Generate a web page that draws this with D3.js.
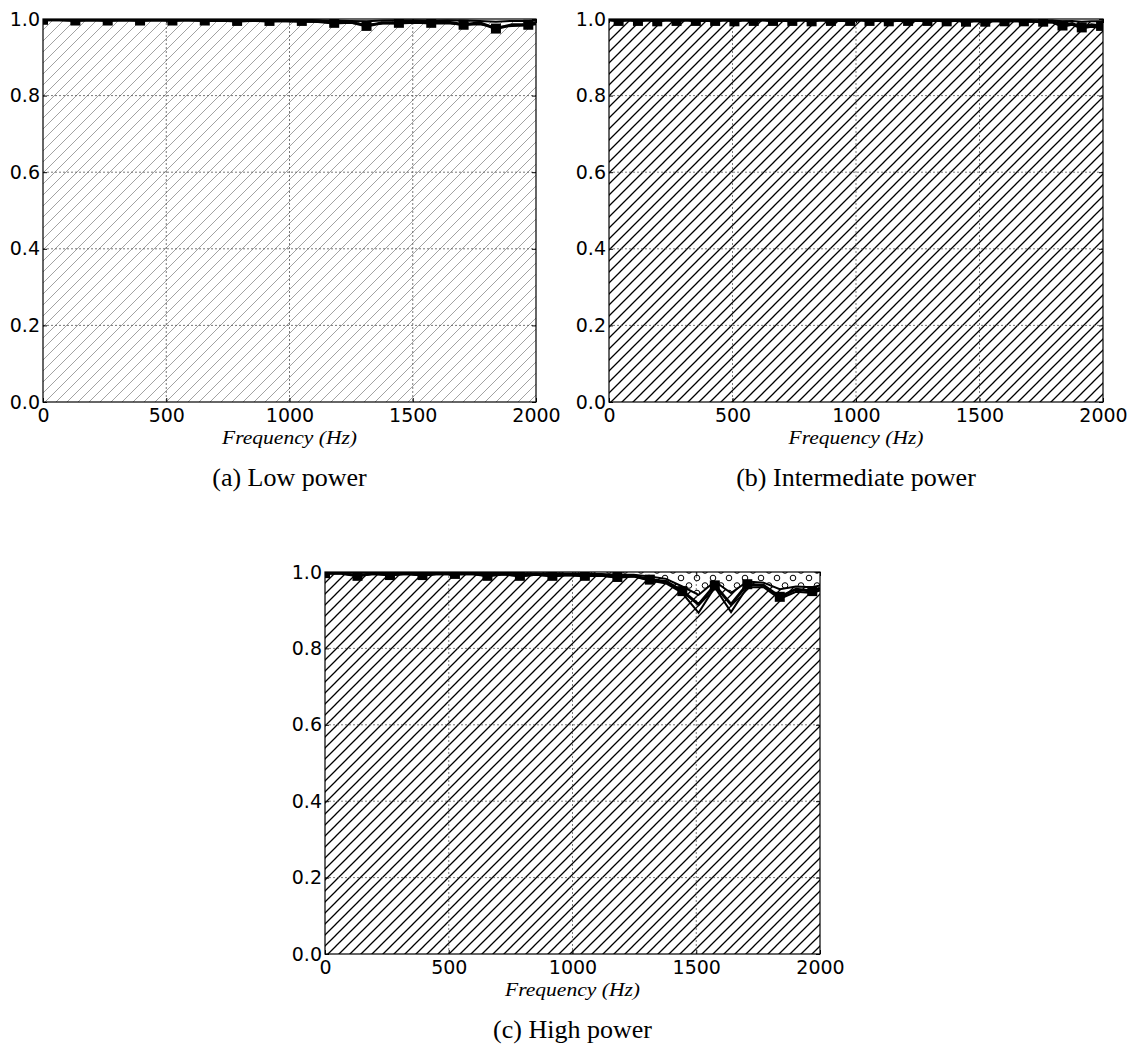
<!DOCTYPE html>
<html>
<head>
<meta charset="utf-8">
<script src="https://cdn.jsdelivr.net/npm/d3@7"></script>
<style>
  html, body { margin: 0; padding: 0; background: #fff; }
  svg { display: block; }
</style>
</head>
<body>
<script>
// ---------- DATA ----------
const freqAC = [0, 65.6, 131.3, 196.9, 262.5, 328.1, 393.8, 459.4, 525, 590.6,
  656.3, 721.9, 787.5, 853.1, 918.8, 984.4, 1050, 1115.6, 1181.3, 1246.9,
  1312.5, 1378.1, 1443.8, 1509.4, 1575, 1640.6, 1706.3, 1771.9, 1837.5, 1903.1,
  1968.8, 2000];

const freqB = [0, 39.1, 78.1, 117.2, 156.3, 195.3, 234.4, 273.4, 312.5, 351.6,
  390.6, 429.7, 468.8, 507.8, 546.9, 585.9, 625, 664.1, 703.1, 742.2,
  781.3, 820.3, 859.4, 898.4, 937.5, 976.6, 1015.6, 1054.7, 1093.8, 1132.8,
  1171.9, 1210.9, 1250, 1289.1, 1328.1, 1367.2, 1406.3, 1445.3, 1484.4, 1523.4,
  1562.5, 1601.6, 1640.6, 1679.7, 1718.8, 1757.8, 1796.9, 1835.9, 1875, 1914.1,
  1953.1, 1992.2, 2000];

// Panel (a) Low power
const lowMain = [0.998,0.998,0.996,0.998,0.996,0.998,0.996,0.998,0.996,0.998,
  0.996,0.997,0.995,0.997,0.995,0.996,0.995,0.995,0.990,0.992,
  0.982,0.990,0.990,0.993,0.990,0.992,0.985,0.990,0.975,0.985,
  0.985,0.990];
const lowUpper = [0.999,0.999,0.999,0.999,0.999,0.999,0.999,0.999,0.999,0.999,
  0.999,0.999,0.999,0.999,0.998,0.998,0.998,0.997,0.996,0.995,
  0.994,0.996,0.997,0.997,0.996,0.997,0.996,0.995,0.993,0.995,
  0.995,0.996];
const lowLower = [0.997,0.997,0.996,0.997,0.996,0.997,0.996,0.997,0.996,0.996,
  0.995,0.996,0.994,0.995,0.994,0.994,0.993,0.992,0.988,0.990,
  0.985,0.988,0.988,0.990,0.988,0.989,0.985,0.986,0.978,0.982,
  0.984,0.986];

// Panel (b) Intermediate power
const midMain = [0.998,0.995,0.998,0.995,0.998,0.994,0.998,0.995,0.998,0.995,
  0.997,0.995,0.998,0.994,0.998,0.995,0.998,0.995,0.997,0.995,
  0.998,0.994,0.998,0.995,0.997,0.995,0.998,0.995,0.997,0.994,
  0.997,0.995,0.997,0.995,0.997,0.994,0.997,0.993,0.996,0.993,
  0.996,0.994,0.996,0.994,0.995,0.993,0.994,0.983,0.988,0.978,
  0.985,0.982,0.985];
const midUpper = [0.999,0.999,0.999,0.999,0.999,0.999,0.999,0.999,0.999,0.999,
  0.999,0.999,0.999,0.999,0.999,0.999,0.999,0.999,0.999,0.999,
  0.999,0.999,0.999,0.999,0.999,0.999,0.999,0.999,0.999,0.999,
  0.999,0.999,0.999,0.999,0.998,0.998,0.998,0.998,0.998,0.998,
  0.998,0.998,0.998,0.998,0.997,0.997,0.996,0.994,0.995,0.993,
  0.994,0.994,0.995];
const midLower = [0.997,0.996,0.997,0.996,0.997,0.995,0.997,0.996,0.997,0.996,
  0.996,0.995,0.997,0.995,0.997,0.995,0.997,0.995,0.996,0.995,
  0.997,0.995,0.997,0.995,0.996,0.995,0.997,0.995,0.996,0.994,
  0.996,0.995,0.996,0.995,0.996,0.994,0.996,0.992,0.995,0.992,
  0.995,0.993,0.995,0.993,0.993,0.991,0.990,0.980,0.985,0.975,
  0.980,0.978,0.980];

// Panel (c) High power
const highMain = [0.997,0.997,0.990,0.996,0.992,0.996,0.992,0.996,0.995,0.996,
  0.990,0.995,0.990,0.994,0.990,0.993,0.990,0.992,0.987,0.990,
  0.980,0.975,0.950,0.915,0.965,0.915,0.968,0.965,0.935,0.955,
  0.950,0.958];
const highLower = [0.996,0.996,0.990,0.995,0.992,0.995,0.991,0.995,0.994,0.995,
  0.990,0.994,0.989,0.993,0.989,0.992,0.989,0.990,0.985,0.988,
  0.978,0.970,0.945,0.893,0.960,0.895,0.960,0.960,0.930,0.948,
  0.945,0.952];
const highUpper = [0.999,0.999,0.998,0.999,0.998,0.999,0.998,0.999,0.998,0.998,
  0.997,0.998,0.997,0.997,0.996,0.996,0.995,0.995,0.993,0.993,
  0.988,0.982,0.962,0.940,0.975,0.945,0.975,0.972,0.955,0.962,
  0.960,0.965];

const xTicks = [0, 500, 1000, 1500, 2000];
const yTicks = [0.0, 0.2, 0.4, 0.6, 0.8, 1.0];
const captions = ["(a) Low power", "(b) Intermediate power", "(c) High power"];
const xLabel = "Frequency (Hz)";

// ---------- LAYOUT ----------
const W = 1139, H = 1048;
const svg = d3.select("body").append("svg").attr("width", W).attr("height", H)
  .style("background", "#fff");
const defs = svg.append("defs");

function hatchPattern(id, p, color, width) {
  const pat = defs.append("pattern").attr("id", id)
    .attr("patternUnits", "userSpaceOnUse").attr("width", p).attr("height", p);
  pat.append("path")
    .attr("d", `M-1,1 L1,-1 M0,${p} L${p},0 M${p-1},${p+1} L${p+1},${p-1}`)
    .attr("stroke", color).attr("stroke-width", width).attr("fill", "none");
}
hatchPattern("hatchLight", 11, "#8a8a8a", 0.8);
hatchPattern("hatchDark", 11, "#000", 1.3);

const circ = defs.append("pattern").attr("id", "hatchO")
  .attr("patternUnits", "userSpaceOnUse").attr("width", 16).attr("height", 15)
  .attr("x", 0).attr("y", 2);
circ.append("circle").attr("cx", 4).attr("cy", 4).attr("r", 2.8)
  .attr("fill", "none").attr("stroke", "#000").attr("stroke-width", 1);
circ.append("circle").attr("cx", 12).attr("cy", 11.5).attr("r", 2.8)
  .attr("fill", "none").attr("stroke", "#000").attr("stroke-width", 1);

const panels = [
  { left: 43, top: 19, width: 493, height: 383, freq: freqAC,
    main: lowMain, upper: lowUpper, lower: lowLower, hatch: "hatchLight",
    markOdd: false, oFill: false, caption: captions[0] },
  { left: 609, top: 19, width: 494, height: 383, freq: freqB,
    main: midMain, upper: midUpper, lower: midLower, hatch: "hatchDark",
    markOdd: true, oFill: false, caption: captions[1] },
  { left: 325, top: 572, width: 495, height: 382, freq: freqAC,
    main: highMain, upper: highUpper, lower: highLower, hatch: "hatchDark",
    markOdd: false, oFill: true, caption: captions[2] }
];

panels.forEach((P, pi) => {
  const g = svg.append("g").attr("transform", `translate(${P.left},${P.top})`);
  const x = d3.scaleLinear().domain([0, 2000]).range([0, P.width]);
  const y = d3.scaleLinear().domain([0, 1]).range([P.height, 0]);

  const clipId = "clip" + pi;
  defs.append("clipPath").attr("id", clipId).append("rect")
    .attr("x", 0).attr("y", 0).attr("width", P.width).attr("height", P.height);

  const plot = g.append("g").attr("clip-path", `url(#${clipId})`);

  const idx = d3.range(P.freq.length);
  const areaFill = d3.area().x(i => x(P.freq[i])).y0(y(0)).y1(i => y(P.upper[i]));
  plot.append("path").attr("d", areaFill(idx)).attr("fill", "#fff");
  plot.append("path").attr("d", areaFill(idx)).attr("fill", `url(#${P.hatch})`);

  if (P.oFill) {
    const areaTop = d3.area().x(i => x(P.freq[i])).y0(i => y(P.upper[i])).y1(y(1));
    plot.append("path").attr("d", areaTop(idx)).attr("fill", "url(#hatchO)");
  }

  // grid
  const gridStyle = sel => sel.attr("stroke", "#555").attr("stroke-width", 0.8)
    .attr("stroke-dasharray", "2,2").attr("fill", "none");
  plot.selectAll(".gx").data(xTicks.slice(1, -1)).enter().append("line")
    .attr("x1", d => x(d)).attr("x2", d => x(d)).attr("y1", 0).attr("y2", P.height)
    .call(gridStyle);
  plot.selectAll(".gy").data(yTicks.slice(1, -1)).enter().append("line")
    .attr("y1", d => y(d)).attr("y2", d => y(d)).attr("x1", 0).attr("x2", P.width)
    .call(gridStyle);

  // lines
  const lineGen = arr => d3.line().x(i => x(P.freq[i])).y(i => y(arr[i]));
  plot.append("path").attr("d", lineGen(P.lower)(idx)).attr("fill", "none")
    .attr("stroke", "#000").attr("stroke-width", 2).attr("stroke-linejoin", "miter");
  plot.append("path").attr("d", lineGen(P.upper)(idx)).attr("fill", "none")
    .attr("stroke", "#000").attr("stroke-width", 2).attr("stroke-linejoin", "miter");
  plot.append("path").attr("d", lineGen(P.main)(idx)).attr("fill", "none")
    .attr("stroke", "#000").attr("stroke-width", 3).attr("stroke-linejoin", "miter");

  // square markers on every other point
  const ms = 10;
  const markIdx = idx.filter(i => P.freq[i] < 2000 && (P.markOdd ? i % 2 === 1 : i % 2 === 0));
  plot.selectAll(".mk").data(markIdx).enter().append("rect")
    .attr("x", i => x(P.freq[i]) - ms / 2).attr("y", i => y(P.main[i]) - ms / 2)
    .attr("width", ms).attr("height", ms).attr("fill", "#000");

  // axes with inward ticks
  const fontTick = "'DejaVu Sans', sans-serif";
  const ax = g.append("g").attr("transform", `translate(0,${P.height})`)
    .call(d3.axisBottom(x).tickValues(xTicks).tickFormat(d3.format("d"))
      .tickSizeInner(-4).tickSizeOuter(0).tickPadding(7));
  const ay = g.append("g")
    .call(d3.axisLeft(y).tickValues(yTicks).tickFormat(d3.format(".1f"))
      .tickSizeInner(-4).tickSizeOuter(0).tickPadding(3));
  const at = g.append("g")
    .call(d3.axisTop(x).tickValues(xTicks).tickFormat("").tickSizeInner(-4).tickSizeOuter(0));
  const ar = g.append("g").attr("transform", `translate(${P.width},0)`)
    .call(d3.axisRight(y).tickValues(yTicks).tickFormat("").tickSizeInner(-4).tickSizeOuter(0));
  [ax, ay, at, ar].forEach(a => {
    a.select(".domain").remove();
    a.selectAll("line").attr("stroke", "#000").attr("stroke-width", 1);
    a.selectAll("text").attr("fill", "#000").style("font-family", fontTick)
      .style("font-size", "19px");
  });

  // frame
  g.append("rect").attr("x", 0).attr("y", 0).attr("width", P.width).attr("height", P.height)
    .attr("fill", "none").attr("stroke", "#000").attr("stroke-width", 1.2);

  // x label
  g.append("text").attr("x", P.width / 2).attr("y", P.height + 42)
    .attr("text-anchor", "middle")
    .attr("textLength", 135).attr("lengthAdjust", "spacingAndGlyphs")
    .style("font-family", "'Liberation Serif', 'DejaVu Serif', serif")
    .style("font-style", "italic").style("font-size", "18px").attr("fill", "#000")
    .text(xLabel);

  // caption
  g.append("text").attr("x", P.width / 2).attr("y", P.height + 84)
    .attr("text-anchor", "middle")
    .style("font-family", "'Liberation Serif', 'DejaVu Serif', serif")
    .style("font-size", "26px").attr("fill", "#000")
    .text(P.caption);
});
</script>
</body>
</html>
